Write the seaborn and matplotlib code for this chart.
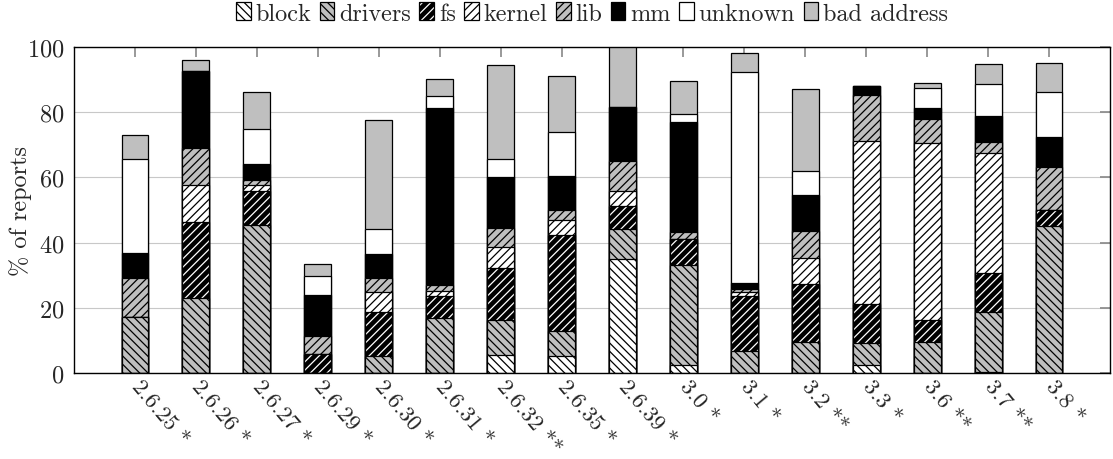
import matplotlib
matplotlib.use("Agg")
import matplotlib.pyplot as plt
from matplotlib.patches import Patch
from matplotlib.legend_handler import HandlerTuple
import pandas as pd
import seaborn as sns

# kernel versions (x axis)
versions = ["2.6.25 *", "2.6.26 *", "2.6.27 *", "2.6.29 *", "2.6.30 *",
            "2.6.31 *", "2.6.32 **", "2.6.35 *", "2.6.39 *", "3.0 *",
            "3.1 *", "3.2 **", "3.3 *", "3.6 **", "3.7 **", "3.8 *"]

# % of reports per origin
block   = [0, 0, 0, 0, 0, 0, 5.6, 5.3, 34.9, 2.6, 0, 0, 2.4, 0, 0.3, 0]
drivers = [17.1, 23.1, 45.5, 0, 5.3, 16.9, 10.8, 7.6, 9.2, 30.5, 6.9, 9.6, 6.8, 9.5, 18.4, 45.0]
fs      = [0, 23.1, 10.3, 5.9, 13.4, 6.6, 15.7, 29.4, 7.2, 8.1, 16.6, 17.6, 12.1, 6.7, 11.9, 5.1]
kernel  = [0, 11.4, 2.0, 0, 6.2, 1.7, 6.7, 4.5, 4.4, 0, 1.4, 8.1, 50.0, 54.2, 36.9, 0]
lib     = [12.1, 11.5, 1.4, 5.4, 4.2, 1.9, 5.7, 3.3, 9.2, 2.1, 0.9, 8.3, 14.0, 7.5, 3.3, 13.2]
mm      = [7.5, 23.4, 4.9, 12.5, 7.5, 54.1, 15.7, 10.4, 16.6, 33.8, 1.9, 11.0, 2.7, 3.5, 8.0, 9.2]
unknown = [29.0, 0, 10.6, 6.1, 7.7, 3.7, 5.4, 13.3, 0, 2.4, 64.6, 7.5, 0, 5.9, 9.7, 13.8]
bad     = [7.4, 3.6, 11.5, 3.6, 33.3, 5.4, 28.8, 17.3, 21.0, 10.2, 6.0, 25.1, 0, 1.7, 6.4, 8.9]

series_names = ["block", "drivers", "fs", "kernel", "lib", "mm", "unknown", "bad address"]

sns.set_theme(style="white")
plt.rcParams["font.family"] = ["cmr10", "DejaVu Serif"]
plt.rcParams["axes.formatter.use_mathtext"] = True
plt.rcParams["hatch.linewidth"] = 0.9

FS = 17.5
GRAY = "#bfbfbf"
# (face colour, hatch colour, hatch) for each series
styles = [
    ("white", "black", "\\\\\\\\"),
    (GRAY, "black", "\\\\\\\\"),
    ("black", "white", "////"),
    ("white", "black", "////"),
    (GRAY, "black", "////"),
    ("black", "black", None),
    ("white", "black", None),
    (GRAY, "black", None),
]

df = pd.DataFrame(dict(zip(series_names,
                           [block, drivers, fs, kernel, lib, mm, unknown, bad])),
                  index=versions)
cum = df.cumsum(axis=1)

fig = plt.figure(figsize=(11.13, 4.6), dpi=100)
ax = fig.add_axes([74 / 1113, 1 - 374 / 460, (1110 - 74) / 1113, (374 - 48) / 460])

# stacked bars: draw cumulative totals from the top series down
for name, (face, hc, hatch) in reversed(list(zip(series_names, styles))):
    sns.barplot(x=versions, y=cum[name].values, order=versions, color=face,
                saturation=1, facecolor=face, edgecolor=hc, linewidth=0,
                hatch=hatch, width=0.44, errorbar=None, ax=ax)
    sns.barplot(x=versions, y=cum[name].values, order=versions, color=face,
                saturation=1, facecolor="none", edgecolor="black",
                linewidth=0.9, width=0.44, errorbar=None, ax=ax)

ax.set_xlim(-1, 16)
ax.set_ylim(0, 100)
ax.set_yticks(range(0, 101, 20))
ax.yaxis.grid(True, color="#c8c8c8", linewidth=0.8)
ax.set_axisbelow(True)
for sp in ax.spines.values():
    sp.set_color("black")
    sp.set_linewidth(1.0)

ax.set_xticks(range(len(versions)))
ax.set_xticklabels(versions, rotation=-50, ha="left", va="center",
                   rotation_mode="anchor", fontsize=16.5)
ax.tick_params(direction="in", length=7, color="#8c8c8c", top=True, right=True,
               labelsize=FS, pad=7)
ax.tick_params(axis="x", labelsize=16.5, pad=7)
ax.set_xlabel("")
ax.set_ylabel("% of reports", fontsize=FS)
ax.yaxis.set_label_coords(-0.041, 0.5)

handles = [(Patch(facecolor=f, edgecolor=h, hatch=ht, linewidth=0),
            Patch(facecolor="none", edgecolor="black", linewidth=0.9))
           for f, h, ht in styles]
fig.legend(handles, series_names, loc="center",
           bbox_to_anchor=(592 / 1113, 1 - 14.5 / 460), ncol=8, frameon=False,
           fontsize=FS, handlelength=0.6, handleheight=0.75, handletextpad=0.2,
           columnspacing=0.35, borderpad=0, borderaxespad=0,
           handler_map={tuple: HandlerTuple(ndivide=1, pad=0)})

fig.savefig("out.png", dpi=100)
